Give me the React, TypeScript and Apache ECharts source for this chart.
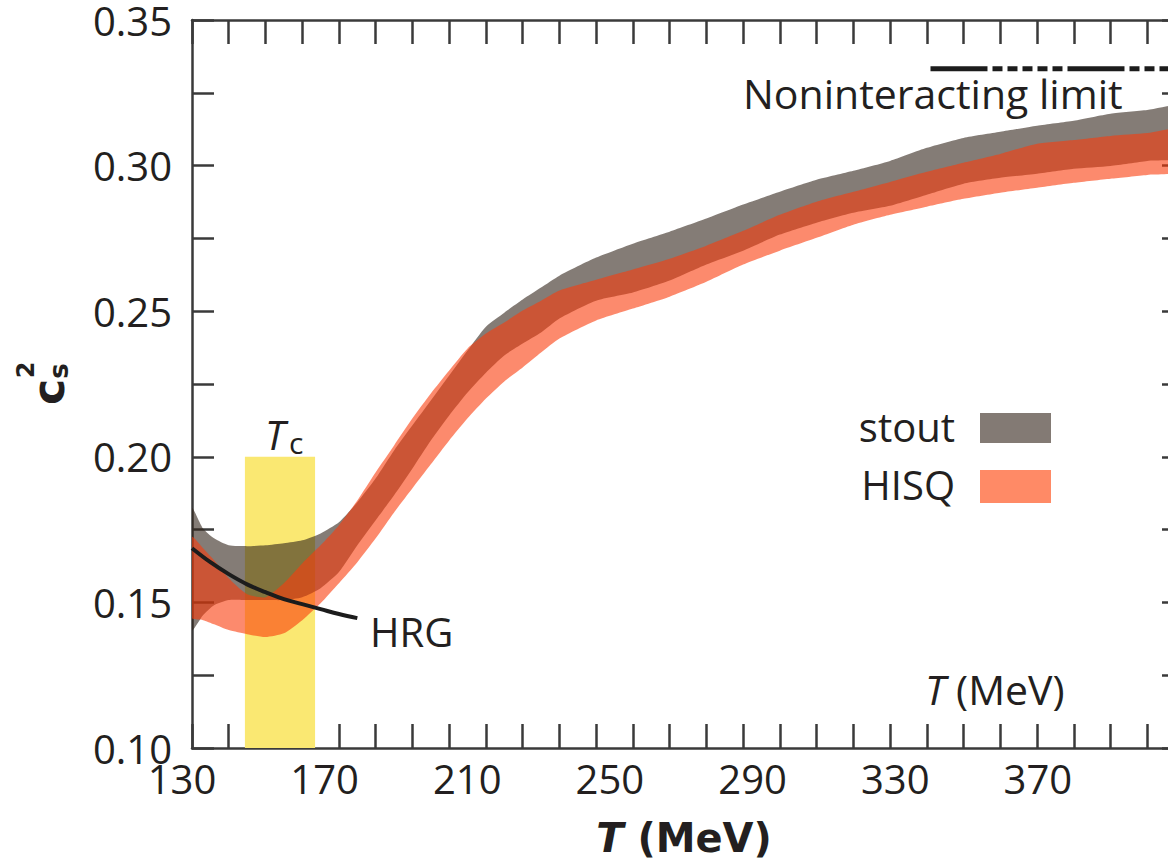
import React, { useEffect, useRef } from 'react';
import * as echarts from 'echarts';

// Temperature grid (MeV)
const temps = [130, 133, 136, 140, 145, 150, 155, 160, 165, 170, 175, 180, 185, 190, 195, 200, 205, 210, 215, 220, 225, 230, 240, 250, 260, 270, 280, 290, 300, 310, 320, 330, 340, 350, 360, 370, 380, 390, 400];

// stout band (upper / lower edge of c_s^2)
const stoutUpper = [0.1823, 0.1754, 0.1720, 0.1696, 0.1693, 0.1696, 0.1703, 0.1713, 0.1737, 0.1775,
  0.1844, 0.1926, 0.2022, 0.2108, 0.2193, 0.2279, 0.2365, 0.2447, 0.2495, 0.2540,
  0.2581, 0.2622, 0.2684, 0.2732, 0.2773, 0.2818, 0.2866, 0.2910, 0.2951, 0.2982,
  0.3016, 0.3061, 0.3095, 0.3116, 0.3137, 0.3154, 0.3178, 0.3191, 0.3205];
const stoutLower = [0.1405, 0.1456, 0.1490, 0.1508, 0.1508, 0.1508, 0.1508, 0.1518, 0.1549, 0.1604,
  0.1696, 0.1782, 0.1868, 0.1960, 0.2056, 0.2142, 0.2221, 0.2289, 0.2348, 0.2389,
  0.2427, 0.2475, 0.2536, 0.2564, 0.2605, 0.2660, 0.2708, 0.2763, 0.2804, 0.2838,
  0.2862, 0.2900, 0.2938, 0.2958, 0.2972, 0.2989, 0.2999, 0.3016, 0.3030];

// HISQ band
const hisqUpper = [0.1724, 0.1686, 0.1645, 0.1583, 0.1528, 0.1518, 0.1566, 0.1634, 0.1696, 0.1765,
  0.1850, 0.1947, 0.2039, 0.2132, 0.2217, 0.2296, 0.2372, 0.2423, 0.2461, 0.2502,
  0.2536, 0.2571, 0.2608, 0.2643, 0.2680, 0.2725, 0.2776, 0.2831, 0.2876, 0.2910,
  0.2944, 0.2979, 0.3010, 0.3040, 0.3075, 0.3088, 0.3102, 0.3112, 0.3126];
const hisqLower = [0.1446, 0.1439, 0.1425, 0.1405, 0.1391, 0.1381, 0.1394, 0.1439, 0.1497, 0.1566,
  0.1638, 0.1720, 0.1809, 0.1892, 0.1974, 0.2056, 0.2132, 0.2200, 0.2259, 0.2307,
  0.2358, 0.2406, 0.2468, 0.2509, 0.2550, 0.2601, 0.2660, 0.2708, 0.2752, 0.2797,
  0.2831, 0.2859, 0.2886, 0.2907, 0.2924, 0.2941, 0.2955, 0.2968, 0.2982];

// Hadron resonance gas curve
const hrgTemps = [130, 135, 140, 145, 150, 155, 160, 165, 170, 175];
const hrgValues = [0.1686, 0.1638, 0.1597, 0.1562, 0.1535, 0.1511, 0.1494, 0.1477, 0.1460, 0.1446];

// Noninteracting (Stefan–Boltzmann) limit
const limitTemps = [331, 400];
const limitValue = 0.3333;

// Tc band
const tcRange = [144.4, 163.5];
const tcTop = 0.2;

// Axis ticks / labels
const xMin = 130, xMax = 400, xStep = 10;
const xLabelValues = [130, 170, 210, 250, 290, 330, 370];
const yMin = 0.1, yMax = 0.35, yStep = 0.025;
const yLabelValues = ['0.10', '0.15', '0.20', '0.25', '0.30', '0.35'];

const FONT = "'Open Sans', 'Noto Sans', sans-serif";
const BOLDFONT = "'DejaVu Sans', 'Open Sans', sans-serif";
const INK = '#231f20';
const AXIS = '#3a3a3a';

function bandSeries(name: string, lower: number[], upper: number[], fill: string) {
  return {
    name,
    type: 'custom',
    silent: true,
    xAxisIndex: 0,
    yAxisIndex: 0,
    data: temps.map((t, i) => [t, lower[i], upper[i]]),
    encode: { x: 0, y: [1, 2] },
    renderItem: (params: any, api: any) => {
      if (params.dataIndex !== 0) return null;
      const top = temps.map((t, i) => api.coord([t, upper[i]]));
      const bottom = temps.map((t, i) => api.coord([t, lower[i]])).reverse();
      const cs = params.coordSys;
      return {
        type: 'polygon',
        shape: { points: top.concat(bottom), smooth: 0.2 },
        style: { fill },
        clipPath: { type: 'rect', shape: { x: cs.x, y: cs.y, width: cs.width, height: cs.height } },
      };
    },
  };
}

export default function App() {
  const ref = useRef<HTMLDivElement>(null);

  useEffect(() => {
    if (!ref.current) return;
    const chart = echarts.init(ref.current, undefined, { renderer: 'svg' });

    const axisCommon = {
      min: xMin,
      max: xMax,
      interval: xStep,
      axisLine: { lineStyle: { color: AXIS, width: 2.5 } },
      axisTick: { inside: true, length: 24, lineStyle: { color: AXIS, width: 2.5 } },
      splitLine: { show: false },
    };
    const yCommon = {
      min: yMin,
      max: yMax,
      interval: yStep,
      axisLine: { lineStyle: { color: AXIS, width: 2.5 } },
      axisTick: { inside: true, length: 22, lineStyle: { color: AXIS, width: 2.5 } },
      splitLine: { show: false },
    };

    // the printed labels sit slightly left of their ticks, increasingly so to the right
    const xRich: any = {};
    xLabelValues.forEach((v) => {
      const shift = 10 + (v - xMin) * 0.108;
      xRich['x' + v] = { fontFamily: FONT, fontSize: 40, color: INK, padding: [0, 2 * shift, 0, 0] };
    });

    const option: any = {
      animation: false,
      grid: { left: 192, top: 19, right: 16, bottom: 118, containLabel: false },
      xAxis: [
        {
          type: 'value',
          position: 'bottom',
          ...axisCommon,
          axisLabel: {
            fontFamily: FONT,
            fontSize: 40,
            color: INK,
            margin: 10,
            rich: xRich,
            formatter: (v: number) => {
              const r = Math.round(v);
              return xLabelValues.includes(r) ? `{x${r}|${r}}` : '';
            },
          },
        },
        {
          type: 'value',
          position: 'top',
          ...axisCommon,
          axisLabel: { show: false },
        },
      ],
      yAxis: [
        {
          type: 'value',
          position: 'left',
          ...yCommon,
          axisLabel: {
            fontFamily: FONT,
            fontSize: 40,
            color: INK,
            margin: 20,
            padding: [10, 0, 0, 0],
            formatter: (v: number) => {
              const s = v.toFixed(2);
              return yLabelValues.includes(s) && Math.abs(v - parseFloat(s)) < 1e-6 ? s : '';
            },
          },
        },
        {
          type: 'value',
          position: 'right',
          ...yCommon,
          axisLabel: { show: false },
        },
      ],
      series: [
        {
          name: 'Tc',
          type: 'custom',
          silent: true,
          data: [[tcRange[0], tcRange[1], yMin, tcTop]],
          encode: { x: [0, 1], y: [2, 3] },
          renderItem: (params: any, api: any) => {
            const p1 = api.coord([api.value(0), api.value(3)]);
            const p2 = api.coord([api.value(1), api.value(2)]);
            return {
              type: 'rect',
              shape: { x: p1[0], y: p1[1], width: p2[0] - p1[0], height: p2[1] - p1[1] },
              style: { fill: '#fae872' },
            };
          },
        },
        bandSeries('stout', stoutLower, stoutUpper, 'rgba(50,36,26,0.6)'),
        bandSeries('HISQ', hisqLower, hisqUpper, 'rgba(250,60,12,0.6)'),
        {
          name: 'HRG',
          type: 'line',
          smooth: 0.4,
          symbol: 'none',
          silent: true,
          lineStyle: { color: '#1c1c1c', width: 4 },
          data: hrgTemps.map((t, i) => [t, hrgValues[i]]),
        },
        {
          name: 'limit',
          type: 'line',
          symbol: 'none',
          silent: true,
          lineStyle: { color: '#1c1c1c', width: 5, type: [57, 5, 10, 5, 10, 5, 10, 5, 10, 5, 10, 5] },
          data: limitTemps.map((t) => [t, limitValue]),
        },
      ],
      graphic: [
        {
          type: 'text', x: 743, y: 93,
          style: { text: 'Noninteracting limit', font: `41px ${FONT}`, fill: INK, align: 'left', verticalAlign: 'middle' },
        },
        {
          type: 'text', x: 370, y: 631,
          style: { text: 'HRG', font: `40px ${FONT}`, fill: INK, align: 'left', verticalAlign: 'middle' },
        },
        {
          type: 'text', x: 275, y: 434,
          style: { text: 'T', font: `italic 40px ${FONT}`, fill: INK, align: 'center', verticalAlign: 'middle' },
        },
        {
          type: 'text', x: 289, y: 442,
          style: { text: 'c', font: `30px ${FONT}`, fill: INK, align: 'left', verticalAlign: 'middle' },
        },
        {
          type: 'text', x: 925, y: 689,
          style: {
            text: '{i|T} (MeV)', font: `41px ${FONT}`, fill: INK, align: 'left', verticalAlign: 'middle',
            rich: { i: { fontStyle: 'italic', fontSize: 41, fontFamily: FONT, fill: INK } },
          },
        },
        {
          type: 'text', x: 684, y: 838,
          style: {
            text: '{i|T} (MeV)', font: `bold 40px ${BOLDFONT}`, fill: INK, align: 'center', verticalAlign: 'middle',
            rich: { i: { fontStyle: 'italic', fontWeight: 'bold', fontSize: 40, fontFamily: BOLDFONT, fill: INK } },
          },
        },
        {
          type: 'group', x: 48, y: 392, rotation: Math.PI / 2,
          children: [
            { type: 'text', x: 0, y: 0, style: { text: 'c', font: `bold 44px ${BOLDFONT}`, fill: INK, align: 'center', verticalAlign: 'middle' } },
            { type: 'text', x: 22, y: -22, style: { text: '2', font: `bold 24px ${BOLDFONT}`, fill: INK, align: 'center', verticalAlign: 'middle' } },
            { type: 'text', x: 21, y: 11, style: { text: 's', font: `bold 26px ${BOLDFONT}`, fill: INK, align: 'center', verticalAlign: 'middle' } },
          ],
        },
        {
          type: 'text', x: 955, y: 426,
          style: { text: 'stout', font: `40px ${FONT}`, fill: INK, align: 'right', verticalAlign: 'middle' },
        },
        { type: 'rect', shape: { x: 980, y: 413, width: 71, height: 30 }, style: { fill: '#837a74' } },
        {
          type: 'text', x: 955, y: 484,
          style: { text: 'HISQ', font: `40px ${FONT}`, fill: INK, align: 'right', verticalAlign: 'middle' },
        },
        { type: 'rect', shape: { x: 980, y: 470, width: 71, height: 33 }, style: { fill: '#ff8a66' } },
      ],
    };

    chart.setOption(option);
    return () => chart.dispose();
  }, []);

  return (
    <div
      ref={ref}
      style={{ position: 'fixed', left: 0, top: 0, width: 1200, height: 866, background: '#fff' }}
    />
  );
}
